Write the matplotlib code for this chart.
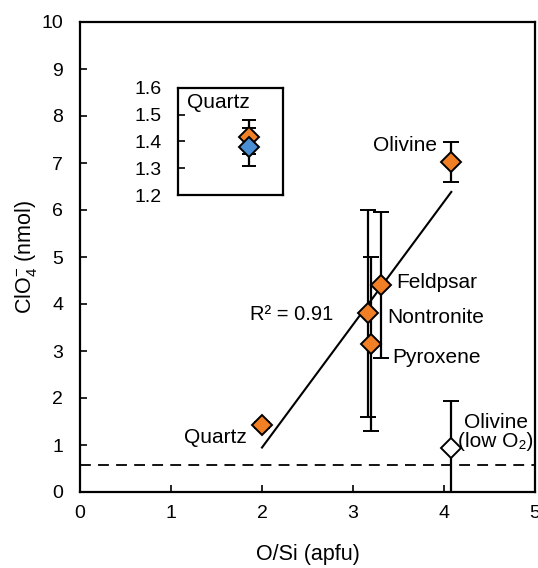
import numpy as np
import matplotlib
matplotlib.use('Agg')
import matplotlib.pyplot as plt

plt.rcParams['font.family'] = ['Liberation Sans', 'DejaVu Sans']
plt.rcParams['mathtext.fontset'] = 'custom'
plt.rcParams['mathtext.rm'] = 'Liberation Sans'
plt.rcParams['mathtext.it'] = 'Liberation Sans'

# minerals under normal O2 (fitted)
names = ['Quartz', 'Nontronite', 'Pyroxene', 'Feldpsar', 'Olivine']
o_si = [2.0, 3.17, 3.2, 3.31, 4.08]
clo4 = [1.42, 3.8, 3.15, 4.4, 7.02]
clo4_err = [0.06, 2.2, 1.85, 1.55, 0.43]

# olivine under low O2
low_x = [4.08]
low_y = [0.93]
low_err = [1.0]

blank = 0.57  # dashed line level

# inset: quartz
inset_x = [2.0, 2.0]
inset_y = [1.417, 1.38]
inset_err = [0.063, 0.07]
inset_col = ['#f07f26', '#4a8fd4']

orange = '#f07f26'

fig = plt.figure(figsize=(5.38, 5.68), dpi=100)
ax = fig.add_axes([80/538, 76/568, 455/538, 470/568])

ax.errorbar(o_si, clo4, yerr=clo4_err, fmt='D', ms=10, mfc=orange, mec='black', mew=1.4,
            ecolor='black', elinewidth=1.6, capsize=6, capthick=1.6, zorder=3)
ax.errorbar(low_x, low_y, yerr=low_err, fmt='D', ms=10, mfc='white', mec='black', mew=1.4,
            ecolor='black', elinewidth=1.6, capsize=6, capthick=1.6, zorder=3)

# linear fit
k, b = np.polyfit(o_si, clo4, 1)
xf = np.array([min(o_si), max(o_si)])
ax.plot(xf, k * xf + b, color='black', lw=1.5, zorder=2)

ax.axhline(blank, color='black', lw=1.3, ls=(0, (6, 4)), zorder=1)

ax.set_xlim(0, 5)
ax.set_ylim(0, 10)
ax.set_xticks(range(0, 6))
ax.set_yticks(range(0, 11))
ax.tick_params(direction='in', labelsize=14, length=5, width=1.2)
ax.tick_params(axis='y', pad=12)
ax.tick_params(axis='x', pad=9)
for s in ax.spines.values():
    s.set_linewidth(1.6)
ax.set_xlabel('O/Si (apfu)', fontsize=15.5, labelpad=16)
ax.set_ylabel(r'ClO$_4^{-}$ (nmol)', fontsize=15.5, labelpad=2)

fs = 15
ax.text(1.835, 1.15, 'Quartz', fontsize=fs, ha='right', va='center')
ax.text(3.92, 7.38, 'Olivine', fontsize=fs, ha='right', va='center')
ax.text(3.48, 4.45, 'Feldpsar', fontsize=fs, ha='left', va='center')
ax.text(3.38, 3.72, 'Nontronite', fontsize=fs, ha='left', va='center')
ax.text(3.43, 2.87, 'Pyroxene', fontsize=fs, ha='left', va='center')
ax.text(4.57, 1.28, 'Olivine\n(low O\u2082)', fontsize=fs, ha='center', va='center', linespacing=1.0)
ax.text(2.33, 3.77, 'R\u00b2 = 0.91', fontsize=14.5, ha='center', va='center')

# inset
axi = fig.add_axes([178/538, (568-195)/568, 105/538, 107/568])
for xi, yi, ei, ci in zip(inset_x, inset_y, inset_err, inset_col):
    axi.errorbar([xi], [yi], yerr=[ei], fmt='D', ms=10, mfc=ci, mec='black', mew=1.4,
                 ecolor='black', elinewidth=1.6, capsize=5, capthick=1.6, zorder=3)
axi.set_xlim(1.0, 2.48)
axi.set_ylim(1.2, 1.6)
axi.set_xticks([])
axi.set_yticks([1.2, 1.3, 1.4, 1.5, 1.6])
axi.tick_params(direction='in', labelsize=14, length=5, width=1.2, pad=12)
for s in axi.spines.values():
    s.set_linewidth(1.6)
axi.text(0.09, 0.86, 'Quartz', fontsize=fs, transform=axi.transAxes, ha='left', va='center')

fig.savefig('out.png', dpi=100)
